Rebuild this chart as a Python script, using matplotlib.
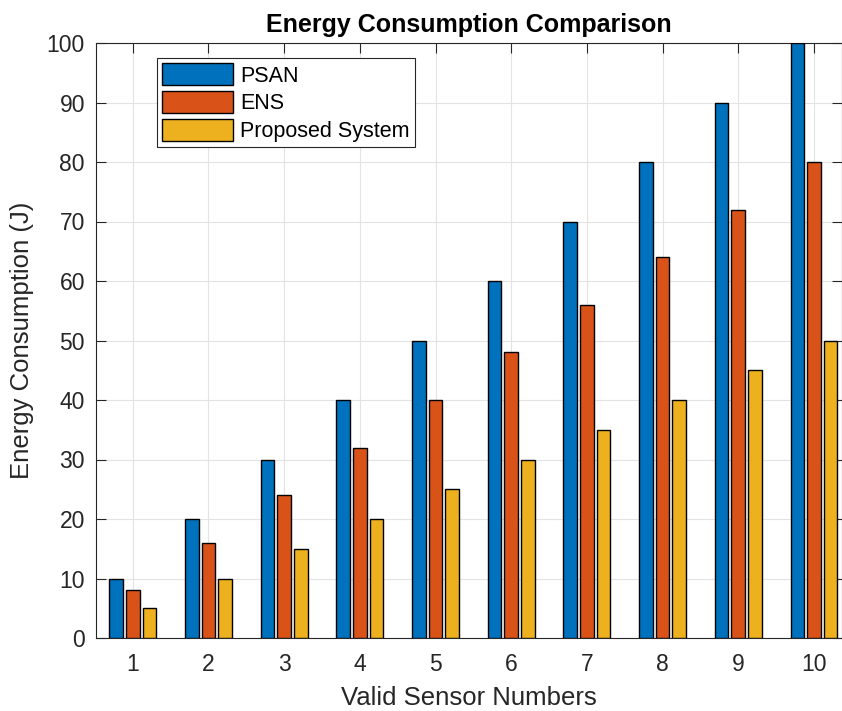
import matplotlib.pyplot as plt
import numpy as np

plt.rcParams['font.family'] = ['Liberation Sans', 'DejaVu Sans']

sensors = [1, 2, 3, 4, 5, 6, 7, 8, 9, 10]
psan = [10, 20, 30, 40, 50, 60, 70, 80, 90, 100]
ens = [8, 16, 24, 32, 40, 48, 56, 64, 72, 80]
proposed = [5, 10, 15, 20, 25, 30, 35, 40, 45, 50]
series_names = ["PSAN", "ENS", "Proposed System"]
colors = ["#0072BD", "#D95319", "#EDB120"]

fig = plt.figure(figsize=(8.42, 7.11), dpi=100)
ax = fig.add_axes([96 / 842, 1 - 638 / 711, 746 / 842, 595 / 711])

x = np.array(sensors)
offset, width = 0.22, 0.18
for k, (vals, name, col) in enumerate(zip([psan, ens, proposed], series_names, colors)):
    ax.bar(x + (k - 1) * offset, vals, width, color=col, edgecolor="black",
           linewidth=1.0, label=name, zorder=3)

ax.set_xlim(0.515, 10.37)
ax.set_ylim(0, 100)
ax.set_xticks(sensors)
ax.set_yticks(range(0, 101, 10))

dark = "#262626"
ax.grid(True, color="#e3e3e3", linewidth=0.8, zorder=0)
ax.tick_params(direction="in", top=True, right=True, length=7, width=0.8,
               colors=dark, labelsize=16.5)
ax.tick_params(axis="x", pad=11)
ax.tick_params(axis="y", pad=8)
for s in ax.spines.values():
    s.set_color(dark)
    s.set_linewidth(0.8)

ax.set_title("Energy Consumption Comparison", fontsize=18, fontweight="bold", pad=8)
ax.set_xlabel("Valid Sensor Numbers", fontsize=18.5, color=dark, labelpad=7)
ax.set_ylabel("Energy Consumption (J)", fontsize=18.5, color=dark, labelpad=9)

leg = ax.legend(loc="upper left", bbox_to_anchor=(61 / 746, 1 - 15 / 595),
                fontsize=15.5, fancybox=False, edgecolor=dark, framealpha=1,
                handlelength=3.3, handleheight=1.2, handletextpad=0.3,
                labelspacing=0.2, borderpad=0.25, borderaxespad=0)
leg.get_frame().set_linewidth(0.8)

fig.savefig("out.png", dpi=100)
